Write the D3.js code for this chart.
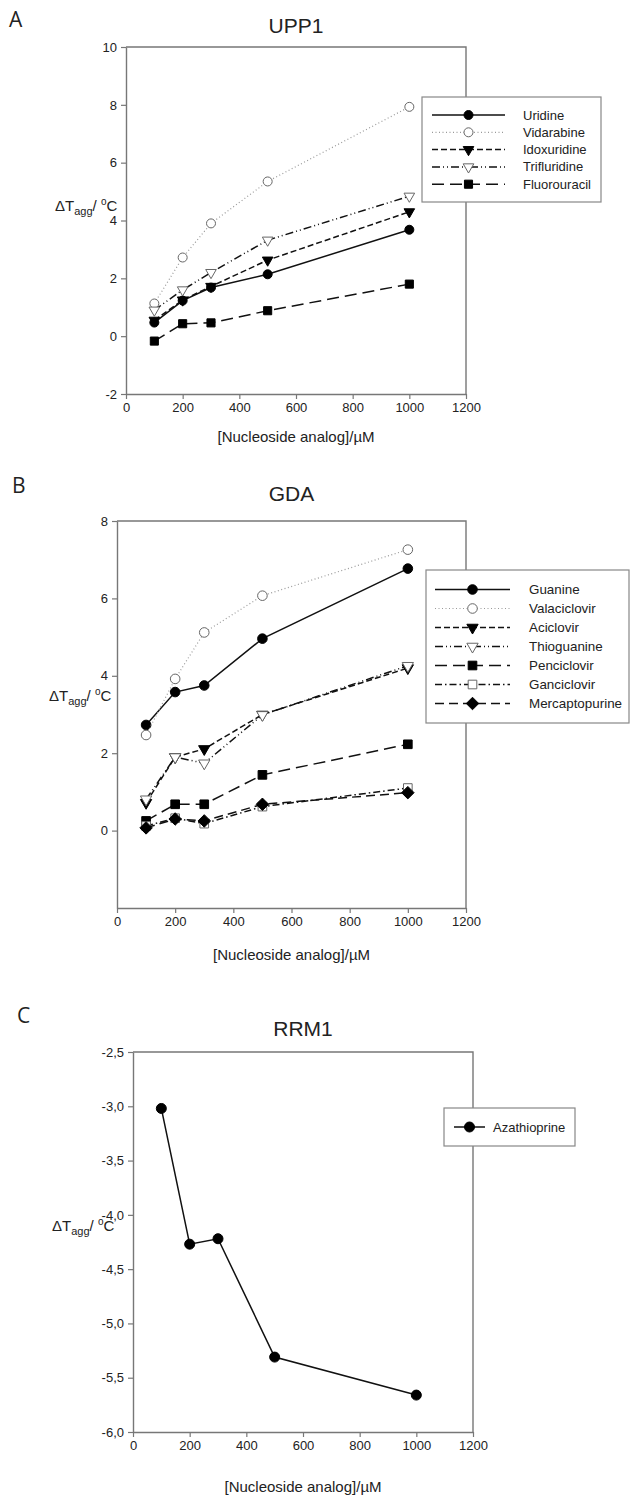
<!DOCTYPE html>
<html>
<head>
<meta charset="utf-8">
<script src="https://cdn.jsdelivr.net/npm/d3@7"></script>
<style>
  body { margin: 0; background: #fff; }
  svg { display: block; }
  text { font-family: "Liberation Sans", Arial, sans-serif; fill: #222; }
  .letter { font-family: "Open Sans", "DejaVu Sans", sans-serif; }
</style>
</head>
<body>
<script>
// concentrations used in every panel
const conc = [100, 200, 300, 500, 1000];
const xTicks = [0, 200, 400, 600, 800, 1000, 1200];

// panel A - UPP1
const upp1Names = ['Uridine', 'Vidarabine', 'Idoxuridine', 'Trifluridine', 'Fluorouracil'];
const uridine      = [0.47, 1.23, 1.68, 2.14, 3.68];
const vidarabine   = [1.13, 2.72, 3.90, 5.35, 7.93];
const idoxuridine  = [0.55, 1.25, 1.72, 2.63, 4.30];
const trifluridine = [0.90, 1.60, 2.20, 3.32, 4.84];
const fluorouracil = [-0.17, 0.43, 0.46, 0.88, 1.80];
const upp1Ticks = [-2, 0, 2, 4, 6, 8, 10];

// panel B - GDA
const gdaNames = ['Guanine', 'Valaciclovir', 'Aciclovir', 'Thioguanine', 'Penciclovir', 'Ganciclovir', 'Mercaptopurine'];
const guanine        = [2.73, 3.58, 3.75, 4.96, 6.77];
const valaciclovir   = [2.47, 3.92, 5.12, 6.07, 7.26];
const aciclovir      = [0.72, 1.90, 2.11, 3.00, 4.20];
const thioguanine    = [0.81, 1.90, 1.74, 2.99, 4.26];
const penciclovir    = [0.25, 0.68, 0.68, 1.44, 2.23];
const ganciclovir    = [0.12, 0.32, 0.18, 0.62, 1.10];
const mercaptopurine = [0.07, 0.30, 0.25, 0.68, 0.98];
const gdaTicks = [0, 2, 4, 6, 8];

// panel C - RRM1
const rrm1Names = ['Azathioprine'];
const azathioprine = [-3.02, -4.27, -4.22, -5.31, -5.66];
const rrm1Ticks = [-6.0, -5.5, -5.0, -4.5, -4.0, -3.5, -3.0, -2.5];

// line / marker styles, in legend order
const styles = {
  Uridine:        { dash: null,           color: '#111', marker: 'circle',   fill: '#000' },
  Vidarabine:     { dash: '1,2.5',        color: '#999', marker: 'circle',   fill: '#fff' },
  Idoxuridine:    { dash: '6,3',          color: '#111', marker: 'triangle', fill: '#000' },
  Trifluridine:   { dash: '8,3,1,3,1,3',  color: '#111', marker: 'triangle', fill: '#fff' },
  Fluorouracil:   { dash: '12,6',         color: '#111', marker: 'square',   fill: '#000' },
  Guanine:        { dash: null,           color: '#111', marker: 'circle',   fill: '#000' },
  Valaciclovir:   { dash: '1,2.5',        color: '#999', marker: 'circle',   fill: '#fff' },
  Aciclovir:      { dash: '6,3',          color: '#111', marker: 'triangle', fill: '#000' },
  Thioguanine:    { dash: '8,3,1,3,1,3',  color: '#111', marker: 'triangle', fill: '#fff' },
  Penciclovir:    { dash: '12,6',         color: '#111', marker: 'square',   fill: '#000' },
  Ganciclovir:    { dash: '7,3,1.5,3',    color: '#111', marker: 'square',   fill: '#fff' },
  Mercaptopurine: { dash: '9,5',          color: '#111', marker: 'diamond',  fill: '#000' },
  Azathioprine:   { dash: null,           color: '#111', marker: 'circle',   fill: '#000' }
};

const svg = d3.select('body').append('svg')
    .attr('width', 630)
    .attr('height', 1499);

function symbolPath(type, r) {
  if (type === 'circle') return d3.symbol(d3.symbolCircle, Math.PI * r * r)();
  if (type === 'square') return d3.symbol(d3.symbolSquare, (r * 1.8) * (r * 1.8))();
  if (type === 'diamond') {
    const a = r * 1.3;
    return `M0,${-a}L${a},0L0,${a}L${-a},0Z`;
  }
  return d3.symbol(d3.symbolTriangle, r * r * 2.4)();
}

function drawMarker(g, type, fill, r, x, y) {
  const rot = type === 'triangle' ? ' rotate(180)' : '';
  g.append('path')
    .attr('d', symbolPath(type, r))
    .attr('transform', `translate(${x},${y})${rot}`)
    .attr('fill', fill)
    .attr('stroke', fill === '#fff' ? '#666' : '#000')
    .attr('stroke-width', 1);
}

function fmt(comma) {
  return d => comma ? d.toFixed(1).replace('.', ',') : String(d);
}

function drawPanel(p) {
  const x = d3.scaleLinear().domain([0, 1200]).range([p.left, p.right]);
  const y = d3.scaleLinear().domain(p.yDomain).range([p.bottom, p.top]);

  // panel letter and title
  svg.append('text').attr('class', 'letter')
    .attr('x', p.letterX).attr('y', p.letterY)
    .style('font-size', '21px').text(p.letter);
  svg.append('text')
    .attr('x', (p.left + p.right) / 2).attr('y', p.titleY)
    .attr('text-anchor', 'middle')
    .style('font-size', '21px').text(p.title);

  // axes
  const xAxis = svg.append('g')
    .attr('transform', `translate(0,${p.bottom})`)
    .call(d3.axisBottom(x).tickValues(xTicks).tickFormat(d => String(d))
      .tickSize(5).tickSizeOuter(0).tickPadding(4));
  const yAxis = svg.append('g')
    .attr('transform', `translate(${p.left},0)`)
    .call(d3.axisLeft(y).tickValues(p.yTicks).tickFormat(fmt(p.comma))
      .tickSize(5).tickSizeOuter(0).tickPadding(4));
  [xAxis, yAxis].forEach(a => {
    a.select('.domain').attr('stroke', '#777').attr('stroke-width', 1.4);
    a.selectAll('.tick line').attr('stroke', '#777').attr('stroke-width', 1.2);
    a.selectAll('.tick text').style('font-size', '13px').attr('fill', '#222')
      .style('font-family', '"Liberation Sans", Arial, sans-serif');
  });

  // top and right frame
  svg.append('path')
    .attr('d', `M${p.left},${p.top}H${p.right}V${p.bottom}`)
    .attr('fill', 'none').attr('stroke', '#777').attr('stroke-width', 1.4);

  // axis titles
  svg.append('text')
    .attr('x', (p.left + p.right) / 2).attr('y', p.xLabelY)
    .attr('text-anchor', 'middle')
    .style('font-size', '15px')
    .text('[Nucleoside analog]/\u00b5M');

  const yl = svg.append('text')
    .attr('x', p.yLabelX).attr('y', p.yLabelY)
    .style('font-size', '15px');
  yl.append('tspan').text('\u0394T');
  yl.append('tspan').attr('dy', 4).style('font-size', '11px').text('agg');
  yl.append('tspan').attr('dy', -4).text('/ ');
  yl.append('tspan').attr('dy', -6).style('font-size', '10px').text('o');
  yl.append('tspan').attr('dy', 6).text('C');

  // series
  const line = d3.line().x((d, i) => x(conc[i])).y(d => y(d));
  p.names.forEach((name, k) => {
    const st = styles[name];
    const g = svg.append('g');
    g.append('path')
      .attr('d', line(p.series[k]))
      .attr('fill', 'none')
      .attr('stroke', st.color)
      .attr('stroke-width', st.dash === '1,2.5' ? 1.2 : 1.5)
      .attr('stroke-dasharray', st.dash);
    p.series[k].forEach((v, i) => drawMarker(g, st.marker, st.fill, p.r, x(conc[i]), y(v)));
  });

  // legend
  const L = p.legend;
  const lg = svg.append('g');
  lg.append('rect')
    .attr('x', L.x).attr('y', L.y).attr('width', L.w).attr('height', L.h)
    .attr('fill', '#fff').attr('stroke', '#888').attr('stroke-width', 1.2);
  p.names.forEach((name, k) => {
    const st = styles[name];
    const ry = L.y + L.first + k * L.step;
    lg.append('line')
      .attr('x1', L.x + L.l1).attr('x2', L.x + L.l2)
      .attr('y1', ry).attr('y2', ry)
      .attr('stroke', st.color)
      .attr('stroke-width', st.dash === '1,2.5' ? 1.2 : 1.5)
      .attr('stroke-dasharray', st.dash);
    drawMarker(lg, st.marker, st.fill, p.r, L.x + (L.l1 + L.l2) / 2, ry);
    lg.append('text')
      .attr('x', L.x + L.tx).attr('y', ry + 4.5)
      .style('font-size', L.font + 'px')
      .text(name);
  });
}

drawPanel({
  letter: 'A', letterX: 9, letterY: 27, title: 'UPP1', titleY: 33,
  left: 126, right: 466, top: 47, bottom: 394,
  yDomain: [-2, 10], yTicks: upp1Ticks, comma: false,
  xLabelY: 442, yLabelX: 55, yLabelY: 211, r: 4.5,
  names: upp1Names,
  series: [uridine, vidarabine, idoxuridine, trifluridine, fluorouracil],
  legend: { x: 422, y: 97, w: 179, h: 105, first: 18, step: 17.3, l1: 10, l2: 83, tx: 101, font: 13 }
});

drawPanel({
  letter: 'B', letterX: 12, letterY: 493, title: 'GDA', titleY: 501,
  left: 117, right: 466, top: 521, bottom: 908,
  yDomain: [-2, 8], yTicks: gdaTicks, comma: false,
  xLabelY: 960, yLabelX: 49, yLabelY: 701, r: 4.8,
  names: gdaNames,
  series: [guanine, valaciclovir, aciclovir, thioguanine, penciclovir, ganciclovir, mercaptopurine],
  legend: { x: 426, y: 570, w: 203, h: 153, first: 19.5, step: 19, l1: 9, l2: 84, tx: 103, font: 13.4 }
});

drawPanel({
  letter: 'C', letterX: 17, letterY: 1023, title: 'RRM1', titleY: 1036,
  left: 133, right: 473, top: 1052, bottom: 1432,
  yDomain: [-6, -2.5], yTicks: rrm1Ticks, comma: true,
  xLabelY: 1492, yLabelX: 52, yLabelY: 1231, r: 5,
  names: rrm1Names,
  series: [azathioprine],
  legend: { x: 444, y: 1108, w: 131, h: 38, first: 19, step: 19, l1: 10, l2: 41, tx: 49, font: 13 }
});
</script>
</body>
</html>
